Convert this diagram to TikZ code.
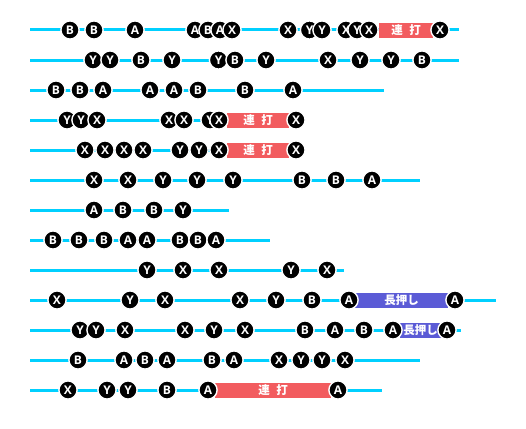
\documentclass[tikz,border=0pt]{standalone}
\usepackage{fontspec}
\setmainfont{Open Sans}
\newfontfamily\cjkfont{Noto Sans CJK JP}
\definecolor{linecyan}{HTML}{00D0FF}
\definecolor{barred}{HTML}{F25C5F}
\definecolor{barblue}{HTML}{5B5BD6}
\tikzset{
  btn/.style={circle,fill=black,draw=white,line width=1.4pt,inner sep=0pt,minimum size=18.2pt,
    text=white,font=\fontsize{12pt}{12pt}\selectfont\bfseries},
  track/.style={linecyan,line width=3pt},
  barbox/.style={anchor=west,inner sep=0pt,minimum height=15pt,text=white,
    font=\cjkfont\bfseries\fontsize{11.5pt}{11.5pt}\selectfont},
  mash/.style={barbox,fill=barred},
  hold/.style={barbox,fill=barblue},
}
\newcommand{\tlrow}[3]{%
  \coordinate (s#1) at (30,#2);
  \coordinate (e#1) at (#3,#2);
  \draw[track] (s#1) -- (e#1);}
\newcommand{\btns}[3]{%
  \foreach \px/\lab [count=\i] in {#3} {\node[btn] (b#1-\i) at (\px,#2) {\lab};}}
\newcommand{\renda}{連\hspace{6.5pt}打}
\begin{document}
\begin{tikzpicture}[x=1pt,y=-1pt]
\useasboundingbox (0,0) rectangle (526,428);
\tlrow{1}{30}{459}
\tlrow{2}{60}{459}
\tlrow{3}{90}{384}
\tlrow{4}{120}{296}
\tlrow{5}{150}{296}
\tlrow{6}{180}{420}
\tlrow{7}{210}{229}
\tlrow{8}{240}{270}
\tlrow{9}{270}{343.5}
\tlrow{10}{300}{496}
\tlrow{11}{330}{461}
\tlrow{12}{360}{420}
\tlrow{13}{390}{382}
\node[mash,minimum width=54pt] (m1) at (379,30.3) {\renda};
\node[mash,minimum width=62pt] (m4) at (227,120.3) {\renda};
\node[mash,minimum width=62pt] (m5) at (227,150.3) {\renda};
\node[hold,minimum width=93pt] (h10) at (355,300.3) {長押し};
\node[hold,minimum width=41pt] (h11) at (400,330.3) {長押し};
\node[mash,minimum width=116pt] (m13) at (215,390.3) {\renda};
\btns{1}{30}{70/B,94/B,135/A,195/A,208/B,220/A,232/X,288/X,309.5/Y,322/Y,346/X,357/Y,369/X,440/X}
\btns{2}{60}{93/Y,110/Y,141/B,172/Y,218.5/Y,235/B,266/Y,328/X,360/Y,391/Y,422/B}
\btns{3}{90}{56/B,80/B,103/A,150/A,174/A,198/B,245/B,293/A}
\btns{4}{120}{67/Y,81/Y,97/X,169/X,184/X,210/Y,219/X,296/X}
\btns{5}{150}{85/X,105/X,124/X,143/X,180/Y,199/Y,219/X,296/X}
\btns{6}{180}{94/X,128/X,163/Y,197/Y,233/Y,302/B,336/B,372/A}
\btns{7}{210}{94/A,123/B,154/B,183/Y}
\btns{8}{240}{53/B,79/B,104/B,128/A,147/A,180/B,198/B,216/A}
\btns{9}{270}{147/Y,183/X,219/X,291/Y,327/X}
\btns{10}{300}{57/X,130/Y,165/X,240/X,276/Y,312/B,349/A,455/A}
\btns{11}{330}{80/Y,96/Y,125/X,185/X,214/Y,245/X,305/B,335/A,364/B,393/A,447/A}
\btns{12}{360}{78/B,124/A,145/B,167/A,212/B,234/A,279/X,301/Y,322/Y,345/X}
\btns{13}{390}{68/X,107/Y,128/Y,167/B,208/A,338/A}
\end{tikzpicture}
\end{document}
